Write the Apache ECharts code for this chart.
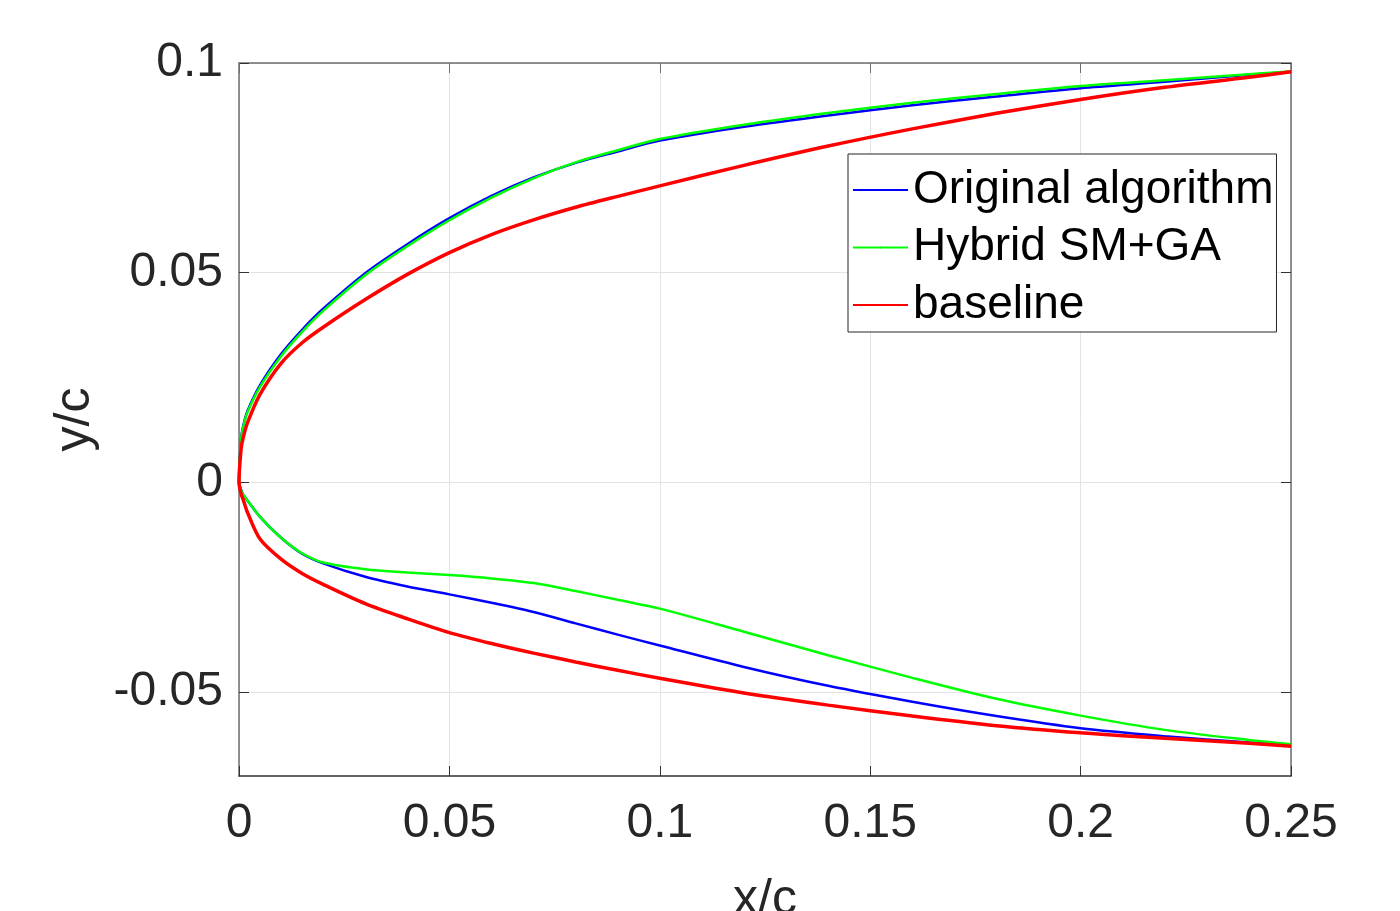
<!DOCTYPE html>
<html>
<head>
<meta charset="utf-8">
<script src="https://cdn.jsdelivr.net/npm/echarts@6/dist/echarts.min.js"></script>
<style>
  html, body { margin: 0; padding: 0; background: #fff; }
  #chart { width: 1400px; height: 911px; }
</style>
</head>
<body>
<div id="chart"></div>
<script>
// chordwise stations x/c shared by every surface
var xs = [0, 0.0005, 0.001, 0.002, 0.005, 0.01, 0.015, 0.02, 0.03, 0.04, 0.05, 0.06, 0.07,
          0.08, 0.09, 0.1, 0.12, 0.14, 0.16, 0.18, 0.2, 0.22, 0.24, 0.25];

var upperOriginal = [0, 0.0105, 0.0135, 0.017, 0.0232, 0.0306, 0.0364, 0.0414, 0.0499, 0.0568, 0.063, 0.0683, 0.0727,
                     0.0762, 0.0789, 0.0815, 0.0848, 0.0875, 0.0899, 0.092, 0.094, 0.0955, 0.0972, 0.0979];
var lowerOriginal = [0, -0.0018, -0.0029, -0.0043, -0.0082, -0.0132, -0.017, -0.0193, -0.0225, -0.0248, -0.0267, -0.0287, -0.0309,
                     -0.0336, -0.0363, -0.0389, -0.044, -0.0485, -0.0523, -0.0557, -0.0586, -0.0605, -0.062, -0.0626];

var upperHybrid = [0, 0.0103, 0.0132, 0.0167, 0.0228, 0.0301, 0.0359, 0.0409, 0.0494, 0.0563, 0.0625, 0.0679, 0.0725,
                   0.0763, 0.0792, 0.0819, 0.0853, 0.0881, 0.0905, 0.0926, 0.0945, 0.0959, 0.0973, 0.098];
var lowerHybrid = [0, -0.0018, -0.0029, -0.0043, -0.0082, -0.0132, -0.0169, -0.0191, -0.0207, -0.0215, -0.0221, -0.0229, -0.024,
                   -0.0259, -0.028, -0.0301, -0.0356, -0.0412, -0.0466, -0.0516, -0.0556, -0.059, -0.0614, -0.0624];

var upperBaseline = [0, 0.008, 0.0107, 0.0142, 0.021, 0.0284, 0.0333, 0.037, 0.0436, 0.0496, 0.0548, 0.0591, 0.0626,
                     0.0656, 0.0682, 0.0707, 0.0756, 0.0802, 0.0843, 0.088, 0.0913, 0.0942, 0.0966, 0.0979];
var lowerBaseline = [0, -0.0027, -0.0041, -0.0071, -0.0135, -0.0183, -0.0217, -0.0243, -0.0289, -0.0325, -0.0358, -0.0384, -0.0407,
                     -0.0428, -0.0448, -0.0467, -0.0502, -0.0531, -0.0557, -0.058, -0.0597, -0.061, -0.0622, -0.0629];

var xTicks = [0, 0.05, 0.1, 0.15, 0.2, 0.25];
var yTicks = [-0.05, 0, 0.05, 0.1];

var names = ['Original algorithm', 'Hybrid SM+GA', 'baseline'];
var colors = ['#0000ff', '#00ff00', '#ff0000'];
var widths = [2.5, 2.5, 3.5];

// trailing edge -> leading edge along the lower side, then back along the upper side
function contour(upper, lower){
    var pts = [];
    for(var i = xs.length - 1; i >= 0; i--){
        pts.push([xs[i], lower[i]]);
    }
    for(var j = 1; j < xs.length; j++){
        pts.push([xs[j], upper[j]]);
    }
    return pts;
}

var shapes = [
    contour(upperOriginal, lowerOriginal),
    contour(upperHybrid, lowerHybrid),
    contour(upperBaseline, lowerBaseline)
];

var font = "'Liberation Sans', Arial, sans-serif";
var frameColor = '#6e6e6e';

var chart = echarts.init(document.getElementById('chart'));

var series = names.map(function(name, k){
    return {
        name: name,
        type: 'line',
        data: shapes[k],
        showSymbol: false,
        symbol: 'none',
        legendIcon: 'rect',
        smooth: 0.3,
        animation: false,
        lineStyle: { color: colors[k], width: widths[k] },
        itemStyle: { color: colors[k] }
    };
});

chart.setOption({
    animation: false,
    backgroundColor: '#fff',
    grid: { left: 239, right: 109, top: 63, bottom: 135, outerBoundsMode: 'none', containLabel: false },
    legend: {
        orient: 'vertical',
        left: 848,
        top: 154,
        padding: [13, 3, 4, 4],
        itemWidth: 55,
        itemHeight: 2.5,
        itemGap: 11.5,
        backgroundColor: '#fff',
        borderColor: '#262626',
        borderWidth: 1,
        textStyle: { fontFamily: font, fontSize: 46, color: '#000', lineHeight: 46 },
        data: names
    },
    xAxis: [{
        type: 'value',
        min: 0,
        max: 0.25,
        interval: 0.05,
        name: 'x/c',
        nameLocation: 'middle',
        nameGap: 99,
        nameTextStyle: { fontFamily: font, fontSize: 50, color: '#262626' },
        axisLine: { onZero: false, lineStyle: { color: '#333', width: 1.5 } },
        axisTick: { inside: true, length: 10, lineStyle: { color: '#333' } },
        axisLabel: { fontFamily: font, fontSize: 48, color: '#262626', margin: 24,
            customValues: xTicks },
        splitLine: { show: true, lineStyle: { color: '#e3e3e3', width: 1 } }
    }, {
        type: 'value',
        position: 'top',
        min: 0,
        max: 0.25,
        interval: 0.05,
        axisLine: { show: true, onZero: false, lineStyle: { color: frameColor, width: 1.5 } },
        axisTick: { show: true, inside: true, length: 10, lineStyle: { color: frameColor } },
        axisLabel: { show: false },
        splitLine: { show: false }
    }],
    yAxis: [{
        type: 'value',
        min: -0.07,
        max: 0.1,
        name: 'y/c',
        nameLocation: 'middle',
        nameGap: 139,
        nameRotate: 90,
        nameTextStyle: { fontFamily: font, fontSize: 50, color: '#262626' },
        axisLine: { show: true, onZero: false, lineStyle: { color: frameColor, width: 1.5 } },
        axisTick: { show: true, inside: true, length: 10, lineStyle: { color: '#333' },
            customValues: yTicks },
        axisLabel: { fontFamily: font, fontSize: 48, color: '#262626', margin: 16,
            customValues: yTicks },
        splitLine: { show: true, lineStyle: { color: '#e3e3e3', width: 1 } }
    }, {
        type: 'value',
        position: 'right',
        min: -0.07,
        max: 0.1,
        axisLine: { show: true, onZero: false, lineStyle: { color: frameColor, width: 1.5 } },
        axisTick: { show: true, inside: true, length: 10, lineStyle: { color: '#333' },
            customValues: yTicks },
        axisLabel: { show: false },
        splitLine: { show: false }
    }],
    series: series
});
</script>
</body>
</html>
